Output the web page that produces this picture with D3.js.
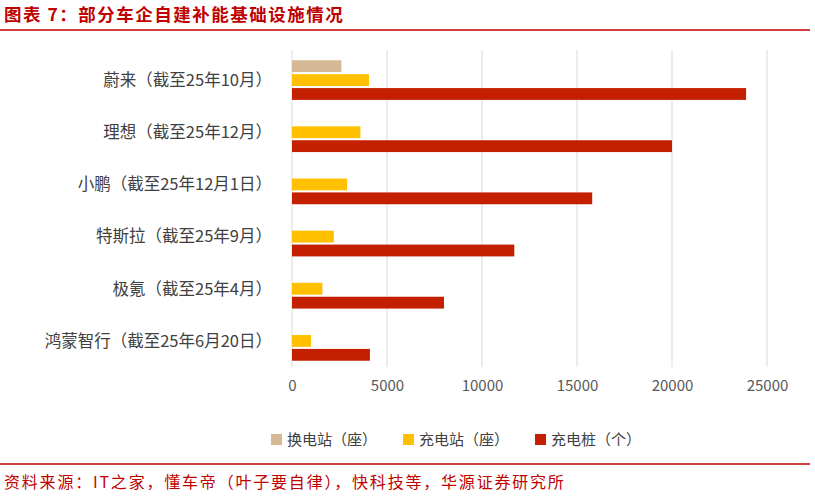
<!DOCTYPE html><html><head><meta charset="utf-8"><script src="https://cdn.jsdelivr.net/npm/d3@7"></script>
<style>body{margin:0;background:#fff;font-family:"Noto Sans CJK SC",sans-serif}</style></head><body><svg id="c" width="815" height="498"></svg>
<script>
const categories=["蔚来（截至25年10月）","理想（截至25年12月）","小鹏（截至25年12月1日）","特斯拉（截至25年9月）","极氪（截至25年4月）","鸿蒙智行（截至25年6月20日）"];
const swapStations=[2600,null,null,null,null,null];
const chargeStations=[4050,3600,2900,2200,1600,1000];
const chargePiles=[23900,20000,15800,11700,8000,4100];
const series=[{name:"换电站（座）",values:swapStations,color:"#d5b895"},{name:"充电站（座）",values:chargeStations,color:"#ffc000"},{name:"充电桩（个）",values:chargePiles,color:"#c31f00"}];
const ticks=[0,5000,10000,15000,20000,25000];
const svg=d3.select("#c");
svg.append("text").attr("x",4).attr("y",21).attr("fill","#c00000").attr("font-size",17.5).attr("font-weight","bold").attr("letter-spacing",1.5).text("图表 7：部分车企自建补能基础设施情况");
svg.append("line").attr("x1",0).attr("x2",810).attr("y1",30).attr("y2",30).attr("stroke","#c00000").attr("stroke-width",1.5);
svg.append("line").attr("x1",0).attr("x2",810).attr("y1",464).attr("y2",464).attr("stroke","#c00000").attr("stroke-width",1.5);
svg.append("text").attr("x",4).attr("y",488).attr("fill","#c00000").attr("font-size",16).attr("letter-spacing",1.8).text("资料来源：IT之家，懂车帝（叶子要自律），快科技等，华源证券研究所");
const x=d3.scaleLinear().domain([0,25000]).range([292,767]);
const y=d3.scaleBand().domain(categories).range([54,367]);
const sy=d3.scaleBand().domain([0,1,2]).range([0,y.bandwidth()]).paddingInner(0.15).paddingOuter(0.45);
svg.append("g").selectAll("line").data(ticks).join("line").attr("x1",d=>x(d)).attr("x2",d=>x(d)).attr("y1",50).attr("y2",367).attr("stroke","#d9d9d9");
const g=svg.append("g");
series.forEach((s,i)=>{g.selectAll(null).data(categories.map((c,j)=>({c,v:s.values[j]})).filter(d=>d.v!=null)).join("rect")
 .attr("x",x(0)).attr("y",d=>y(d.c)+sy(i)).attr("height",sy.bandwidth()).attr("width",d=>x(d.v)-x(0)).attr("fill",s.color);});
const ax=svg.append("g").attr("transform","translate(0,367)").call(d3.axisBottom(x).tickValues(ticks).tickSize(0).tickPadding(13).tickFormat(d3.format("d")));
ax.select(".domain").remove();ax.selectAll("text").attr("font-size",15).attr("fill","#595959").attr("font-family","Noto Sans CJK SC");
svg.append("g").selectAll("text").data(categories).join("text").attr("x",272).attr("y",d=>y(d)+sy(1)+sy.bandwidth()/2).attr("dy","0.35em").attr("text-anchor","end").attr("font-size",16.5).attr("fill","#404040").text(d=>d);
const lg=svg.append("g");
series.forEach((s,i)=>{const lx=271+i*132;lg.append("rect").attr("x",lx).attr("y",434).attr("width",11).attr("height",11).attr("fill",s.color);
lg.append("text").attr("x",lx+16).attr("y",440).attr("dy","0.35em").attr("font-size",15).attr("fill","#404040").text(s.name);});
</script></body></html>
